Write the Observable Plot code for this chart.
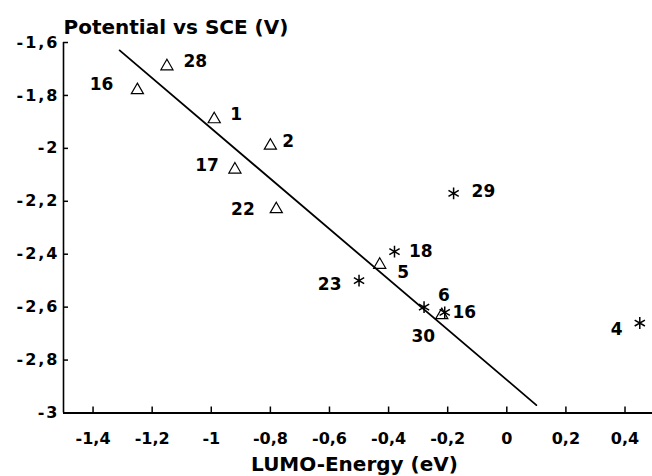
<!DOCTYPE html>
<html><head><meta charset="utf-8">
<script src="https://cdn.jsdelivr.net/npm/d3@7"></script>
<script src="https://cdn.jsdelivr.net/npm/@observablehq/plot@0.6"></script>
<style>
html,body{margin:0;padding:0;background:#fff;}
#chart svg{display:block;}
#chart g[aria-label="y-axis tick label"] text{letter-spacing:2px;}
</style></head><body><div id="chart"></div>
<script>
// ---- data ----
const xTicks = [-1.4, -1.2, -1, -0.8, -0.6, -0.4, -0.2, 0, 0.2, 0.4];
const yTicks = [-1.6, -1.8, -2, -2.2, -2.4, -2.6, -2.8, -3];

const triLabels = ["16", "28", "1", "2", "17", "22", "5", "30"];
const triX      = [-1.25, -1.15, -0.99, -0.80, -0.92, -0.78, -0.43, -0.22];
const triY      = [-1.78, -1.69, -1.89, -1.99, -2.08, -2.23, -2.44, -2.63];

const starLabels = ["29", "18", "23", "6", "16", "4"];
const starX      = [-0.18, -0.38, -0.50, -0.28, -0.21, 0.45];
const starY      = [-2.17, -2.39, -2.50, -2.60, -2.62, -2.66];

const fitX = [-1.31, 0.10];
const fitY = [-1.63, -2.97];

const xTitle = "LUMO-Energy (eV)";
const yTitle = "Potential vs SCE (V)";

// ---- layout (label placement: anchor, dx, dy in px) ----
const triLabelLayout  = [["end",-24,-5.5],["start",16.5,-5],["start",16,-4.5],["start",12,-3.7],["end",-16,-3.5],["end",-21.5,0],["start",17.5,7.7],["end",-6.7,21.7]];
const starLabelLayout = [["start",18,-2],["start",14.5,0],["end",-17.5,3.8],["start",14,-12],["start",7.7,0],["end",-17.3,7]];

const W = 652, H = 476, mL = 63, mR = 0, mT = 42, mB = 63.5;
const plotW = W - mL - mR, plotH = H - mT - mB;
const FONT = "DejaVu Sans";
const fmt = d => String(d).replace(".", ",");

const tri = triLabels.map((label, i) => ({label, x: triX[i], y: triY[i]}));
const star = starLabels.map((label, i) => ({label, x: starX[i], y: starY[i]}));
const fit = fitX.map((x, i) => ({x, y: fitY[i]}));

const labelMarks = [
  ...tri.map((d, i) => Plot.text([d], {x: "x", y: "y", text: "label", textAnchor: triLabelLayout[i][0], dx: triLabelLayout[i][1], dy: triLabelLayout[i][2], fontSize: 17, fontWeight: "bold", fontFamily: FONT, fill: "black"})),
  ...star.map((d, i) => Plot.text([d], {x: "x", y: "y", text: "label", textAnchor: starLabelLayout[i][0], dx: starLabelLayout[i][1], dy: starLabelLayout[i][2], fontSize: 17, fontWeight: "bold", fontFamily: FONT, fill: "black"}))
];

const chart = Plot.plot({
  width: W, height: H,
  marginLeft: mL, marginRight: mR, marginTop: mT, marginBottom: mB,
  style: {background: "white", color: "black", fontFamily: FONT},
  x: {domain: [-1.5, 0.493], label: null},
  y: {domain: [-3, -1.6], label: null},
  marks: [
    Plot.axisX({ticks: xTicks, tickFormat: fmt, tickSize: 0, tickPadding: 20, fontSize: 16, fontWeight: "bold", fontFamily: FONT, label: null}),
    Plot.axisY({ticks: yTicks, tickFormat: fmt, tickSize: 0, tickPadding: 4, fontSize: 16, fontWeight: "bold", fontFamily: FONT, label: null}),
    Plot.tickX(xTicks, {x: d => d, insetTop: plotH - 6, stroke: "black", strokeWidth: 1.5}),
    Plot.tickY(yTicks, {y: d => d, insetRight: plotW - 5, stroke: "black", strokeWidth: 1.5}),
    Plot.ruleX([-1.5], {stroke: "black", strokeWidth: 1.6}),
    Plot.ruleY([-3], {stroke: "black", strokeWidth: 2}),
    Plot.line(fit, {x: "x", y: "y", stroke: "black", strokeWidth: 1.8}),
    Plot.dot(tri, {x: "x", y: "y", symbol: "triangle", r: 4.5, stroke: "black", fill: "none", strokeWidth: 1.2}),
    Plot.dot(star, {x: "x", y: "y", symbol: "asterisk", r: 5.6, stroke: "black", strokeWidth: 1.5}),
    ...labelMarks,
    Plot.text([yTitle], {frameAnchor: "top-left", text: d => d, textAnchor: "start", lineAnchor: "bottom", dy: -9, fontSize: 20, fontWeight: "bold", fontFamily: FONT, fill: "black"}),
    Plot.text([xTitle], {frameAnchor: "bottom", text: d => d, textAnchor: "middle", lineAnchor: "bottom", dx: -3.5, dy: 57.5, fontSize: 20, fontWeight: "bold", fontFamily: FONT, fill: "black"})
  ]
});
document.getElementById("chart").appendChild(chart);
</script></body></html>
